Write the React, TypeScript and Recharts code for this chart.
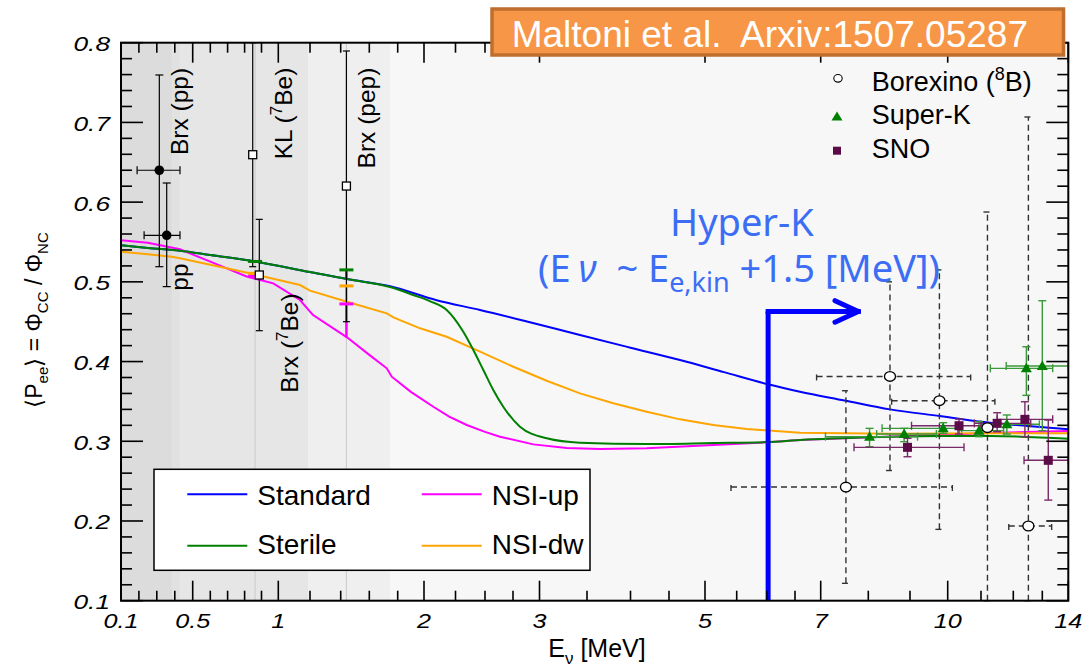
import React from "react";
import {
  ComposedChart,
  Line,
  Scatter,
  XAxis,
  YAxis,
  CartesianGrid,
  ReferenceArea,
  ReferenceLine,
  ErrorBar,
} from "recharts";

const FONT = "'Liberation Sans', Arial, Helvetica, sans-serif";

// ---------- x-axis calibration (energy [MeV] -> axis units); axis is neither linear nor log
const X_KNOT_E = [0.1, 0.2, 0.3, 0.4, 0.5, 0.6, 0.7, 0.8, 0.9, 1, 1.2, 1.4, 1.6, 1.8, 2, 2.25, 2.5, 2.75, 3, 3.5, 4, 4.5, 5, 5.5, 6, 6.5, 7, 8, 9, 10, 11, 12, 13, 14];
const X_KNOT_U = [121, 138.9, 156.8, 174.8, 192.7, 210.3, 227.6, 244.6, 261.5, 278.3, 310, 340.7, 369.3, 397.7, 424, 455.5, 485, 513, 539.5, 587, 630.5, 669, 705, 736.7, 767, 795, 820.7, 868.3, 910, 947.7, 981, 1013.3, 1042.3, 1068.3];

function toU(e: number): number {
  const n = X_KNOT_E.length;
  let i = 0;
  if (e >= X_KNOT_E[n - 1]) i = n - 2;
  else if (e > X_KNOT_E[0]) {
    while (i < n - 2 && e > X_KNOT_E[i + 1]) i++;
  }
  const e0 = X_KNOT_E[i], e1 = X_KNOT_E[i + 1];
  const u0 = X_KNOT_U[i], u1 = X_KNOT_U[i + 1];
  return u0 + ((e - e0) / (e1 - e0)) * (u1 - u0);
}

// ---------- tick labels
const X_MAJOR_E = [0.1, 0.5, 1, 2, 3, 5, 7, 10, 14];
const X_MAJOR_LABELS = ["0.1", "0.5", "1", "2", "3", "5", "7", "10", "14"];
const Y_MAJOR = [0.1, 0.2, 0.3, 0.4, 0.5, 0.6, 0.7, 0.8];
const Y_MAJOR_LABELS = ["0.1", "0.2", "0.3", "0.4", "0.5", "0.6", "0.7", "0.8"];

// ---------- model curves
const STD_E = [0.1, 0.25, 0.429, 0.6, 0.862, 1.2, 1.444, 1.746, 2.1, 2.458, 2.9, 3.426, 4.0, 4.653, 5.3, 6.0, 6.597, 7.5, 8.52, 9.796, 11.28, 12.5, 14];
const STD_P = [0.546, 0.5425, 0.539, 0.5336, 0.5256, 0.5123, 0.5035, 0.4945, 0.477, 0.4647, 0.4496, 0.4333, 0.4174, 0.4019, 0.3867, 0.3718, 0.3622, 0.3512, 0.34, 0.3317, 0.3233, 0.3192, 0.315];

const STR_E = [0.1, 0.25, 0.429, 0.6, 0.862, 1.2, 1.444, 1.746, 1.919, 2.05, 2.18, 2.316, 2.401, 2.486, 2.574, 2.663, 2.816, 3.076, 3.426, 4.21, 5.131, 6.0, 6.597, 8.04, 9.8, 11.28, 14];
const STR_P = [0.546, 0.5425, 0.539, 0.5336, 0.5256, 0.5123, 0.5035, 0.4935, 0.4835, 0.4756, 0.4647, 0.4374, 0.4145, 0.3894, 0.3643, 0.3433, 0.3183, 0.3037, 0.2982, 0.2965, 0.2978, 0.299, 0.3016, 0.305, 0.3066, 0.3066, 0.3032];

const UP_E = [0.1, 0.25, 0.429, 0.6, 0.812, 0.97, 1.137, 1.2, 1.22, 1.444, 1.6, 1.723, 1.758, 1.9, 2.074, 2.2, 2.345, 2.5, 2.634, 2.942, 3.286, 3.649, 4.21, 5.131, 6.0, 6.597, 8.04, 9.8, 11.28, 14];
const UP_P = [0.5523, 0.549, 0.5408, 0.5253, 0.5067, 0.4981, 0.4772, 0.4626, 0.4584, 0.4304, 0.4084, 0.3915, 0.381, 0.362, 0.3433, 0.331, 0.3204, 0.3118, 0.3057, 0.2961, 0.2915, 0.2903, 0.2911, 0.2953, 0.2987, 0.3016, 0.305, 0.308, 0.3105, 0.3129];

const DW_E = [0.1, 0.25, 0.384, 0.429, 0.6, 0.83, 1.137, 1.2, 1.444, 1.723, 1.77, 1.97, 2.18, 2.458, 2.753, 3.076, 3.426, 3.802, 4.21, 4.653, 5.131, 5.665, 6.597, 8.52, 11.28, 14];
const DW_P = [0.5378, 0.5345, 0.5316, 0.5295, 0.5214, 0.5107, 0.496, 0.4889, 0.4751, 0.4605, 0.4555, 0.4417, 0.4311, 0.4124, 0.3935, 0.3759, 0.3601, 0.3476, 0.3371, 0.3275, 0.3204, 0.3154, 0.3107, 0.3095, 0.31, 0.31];

// ---------- model predictions at the mono-energetic lines (7Be, pep)
const LINE_E = [0.862, 1.44];
const STR_LINE_P = [0.5256, 0.515];
const STR_LINE_CURVE = [0.5256, 0.5035];
const UP_LINE_P = [0.507, 0.4723];
const UP_LINE_CURVE = [0.507, 0.4304];
const DW_LINE_P = [0.5107, 0.4949];
const DW_LINE_CURVE = [0.5107, 0.4751];

// ---------- Borexino pp (filled circles)
const BPP_E = [0.314, 0.355];
const BPP_P = [0.64, 0.5584];
const BPP_ELO = [0.19, 0.229];
const BPP_EHI = [0.429, 0.429];
const BPP_PLO = [0.519, 0.494];
const BPP_PHI = [0.7595, 0.624];

// ---------- KL 7Be, Brx 7Be, Brx pep (open squares)
const SQ_E = [0.848, 0.887, 1.44];
const SQ_P = [0.6595, 0.5086, 0.6202];
const SQ_PLO = [0.519, 0.4387, 0.45];
const SQ_PHI = [0.8, 0.5784, 0.7896];

// ---------- Borexino 8B
const B8_E = [7.53, 8.52, 9.78, 11.2, 12.52];
const B8_P = [0.2426, 0.3813, 0.3509, 0.317, 0.1937];
const B8_ELO = [5.41, 6.92, 8.56, 11.2, 11.86];
const B8_EHI = [10.14, 10.69, 11.43, 11.2, 13.36];
const B8_PLO = [0.1218, 0.2633, 0.1895, 0.1, 0.1];
const B8_PHI = [0.3634, 0.5, 0.515, 0.5876, 0.7068];

// ---------- Super-K
const SK_E = [8.03, 8.86, 9.88, 10.94, 11.8, 12.45, 13.0];
const SK_P = [0.3057, 0.3091, 0.3162, 0.3133, 0.3213, 0.3915, 0.3944];
const SK_ELO = [7.1, 8.2, 8.33, 10.3, 11.0, 11.29, 11.78];
const SK_EHI = [9.2, 9.7, 10.42, 11.7, 12.9, 13.4, 14.0];
const SK_PLO = [0.2932, 0.2995, 0.31, 0.3057, 0.309, 0.3576, 0.3133];
const SK_PHI = [0.3162, 0.3162, 0.3233, 0.3245, 0.333, 0.4186, 0.4763];

// ---------- SNO
const SNO_E = [8.94, 10.34, 11.5, 12.4, 13.23];
const SNO_P = [0.2924, 0.3195, 0.3225, 0.3275, 0.2761];
const SNO_ELO = [7.7, 9.04, 10.8, 11.5, 12.37];
const SNO_EHI = [10.49, 11.0, 12.6, 13.4, 14.0];
const SNO_PLO = [0.2806, 0.3091, 0.312, 0.3057, 0.2262];
const SNO_PHI = [0.3037, 0.3279, 0.3358, 0.3496, 0.3266];

// ---------- shaded energy bands and line markers
const BAND_E = [0.1, 0.385, 0.43, 1.19, 1.745];
const BAND_FILL = ["#dcdcdc", "#e1e1e1", "#e6e6e6", "#efefef"];
const GUIDE_E = [0.862, 1.44];

// ---------- Hyper-K threshold arrow
const HK_E = 6.02;
const HK_P = 0.4629;
const HK_ARROW_E = 7.79;
const HK_HEAD_E = 7.3;
const HK_HEAD_DP = 0.0135;

// ---------- layout
const W = 1089;
const H = 668;
const PL = 121;
const PT = 42.7;
const PR = 1068.3;
const PB = 600.7;

const curve = (es: number[], ps: number[]) => es.map((e, i) => ({ u: toU(e), P: ps[i] }));
const points = (es: number[], ps: number[], elo: number[] | null, ehi: number[] | null, plo: number[], phi: number[]) =>
  es.map((e, i) => {
    const u = toU(e);
    return {
      u,
      P: ps[i],
      ex: elo && ehi ? [u - toU(elo[i]), toU(ehi[i]) - u] : [0, 0],
      ey: [ps[i] - plo[i], phi[i] - ps[i]],
    };
  });
const lineMarks = (p: number[], c: number[]) => LINE_E.map((e, i) => ({ u: toU(e), P: p[i], ey: [p[i] - c[i], 0] }));

const stdData = curve(STD_E, STD_P);
const strData = curve(STR_E, STR_P);
const upData = curve(UP_E, UP_P);
const dwData = curve(DW_E, DW_P);
const bppData = points(BPP_E, BPP_P, BPP_ELO, BPP_EHI, BPP_PLO, BPP_PHI);
const sqData = points(SQ_E, SQ_P, null, null, SQ_PLO, SQ_PHI);
const b8Data = points(B8_E, B8_P, B8_ELO, B8_EHI, B8_PLO, B8_PHI);
const skData = points(SK_E, SK_P, SK_ELO, SK_EHI, SK_PLO, SK_PHI);
const snoData = points(SNO_E, SNO_P, SNO_ELO, SNO_EHI, SNO_PLO, SNO_PHI);

const Y_TICKS: number[] = [];
for (let i = 0; i <= 35; i++) Y_TICKS.push(Math.round((0.1 + 0.02 * i) * 100) / 100);

function XTick(props: any) {
  const v = props.payload.value;
  const x = props.payload.coordinate ?? props.x;
  const k = X_MAJOR_E.findIndex((e) => Math.abs(toU(e) - v) < 1e-6);
  const len = k >= 0 ? 20 : 10;
  return (
    <g>
      <line x1={x} x2={x} y1={PB} y2={PB - len} stroke="#000" strokeWidth={1.6} />
      <line x1={x} x2={x} y1={PT} y2={PT + len} stroke="#000" strokeWidth={1.6} />
      {k >= 0 && (
        <text
          x={0}
          y={0}
          transform={`translate(${x},${PB + 27.6}) scale(1.2,1)`}
          textAnchor="middle"
          fontSize={21}
          fontStyle="italic"
          fontWeight="normal"
          fontFamily={FONT}
          fill="#000"
        >
          {X_MAJOR_LABELS[k]}
        </text>
      )}
    </g>
  );
}

function YTick(props: any) {
  const v = props.payload.value;
  const y = props.payload.coordinate ?? props.y;
  const k = Y_MAJOR.findIndex((m) => Math.abs(m - v) < 1e-6);
  const len = k >= 0 ? 22 : 11;
  return (
    <g>
      <line x1={PL} x2={PL + len} y1={y} y2={y} stroke="#000" strokeWidth={1.6} />
      <line x1={PR} x2={PR - len} y1={y} y2={y} stroke="#000" strokeWidth={1.6} />
      {k >= 0 && (
        <text
          x={0}
          y={0}
          transform={`translate(${110},${y + 8.5}) scale(1.25,1)`}
          textAnchor="end"
          fontSize={21}
          fontStyle="italic"
          fontWeight="normal"
          fontFamily={FONT}
          fill="#000"
        >
          {Y_MAJOR_LABELS[k]}
        </text>
      )}
    </g>
  );
}

const filledCircle = (p: any) => <circle cx={p.cx} cy={p.cy} r={4.8} fill="#000" />;
const openSquare = (p: any) => (
  <rect x={p.cx - 4} y={p.cy - 4} width={8} height={8} fill="#fff" stroke="#000" strokeWidth={1.3} />
);
const openCircle = (p: any) => (
  <ellipse cx={p.cx} cy={p.cy} rx={5.5} ry={4.8} fill="#fff" stroke="#000" strokeWidth={1.3} />
);
const triangle = (p: any) => (
  <polygon
    points={`${p.cx},${p.cy - 5.5} ${p.cx - 5.5},${p.cy + 4} ${p.cx + 5.5},${p.cy + 4}`}
    fill="#008000"
  />
);
const snoSquare = (p: any) => (
  <rect x={p.cx - 4.5} y={p.cy - 4.5} width={9} height={9} fill="#5c0b49" />
);
const bar = (color: string) => (p: any) => (
  <line x1={p.cx - 7} x2={p.cx + 7} y1={p.cy} y2={p.cy} stroke={color} strokeWidth={3} />
);

const BLUE = "#0000ff";
const GREEN = "#008000";
const MAGENTA = "#ff00ff";
const ORANGE = "#ffa500";
const HK_BLUE = "#3c6ef5";

function Overlay() {
  const rot = (x: number, y: number) => `translate(${x},${y}) rotate(-90)`;
  return (
    <svg
      width={W}
      height={H}
      style={{ position: "absolute", left: 0, top: 0, pointerEvents: "none" }}
      fontFamily={FONT}
    >
      {/* frame */}
      <rect x={PL} y={PT} width={PR - PL} height={PB - PT} fill="none" stroke="#000" strokeWidth={2} />

      {/* banner */}
      <rect x={492} y={9} width={571.5} height={46} fill="#f79646" stroke="#bf6e2e" strokeWidth={3.5} />
      <text x={511.7} y={46.7} fontSize={37} fill="#fff" style={{ whiteSpace: "pre" }}>
        Maltoni et al.  Arxiv:1507.05287
      </text>

      {/* top-right legend */}
      <ellipse cx={838} cy={78.3} rx={4.2} ry={3.8} fill="#fff" stroke="#000" strokeWidth={1.1} />
      <polygon points="837,111.5 831.5,120.5 842.5,120.5" fill="#008000" />
      <rect x={833} y={146.7} width={8} height={8} fill="#5c0b49" />
      <text x={871.7} y={90.7} fontSize={27} fill="#000">
        Borexino (<tspan dy={-11} fontSize={18}>8</tspan>
        <tspan dy={11}>B)</tspan>
      </text>
      <text x={871.7} y={124} fontSize={27} fill="#000">
        Super-K
      </text>
      <text x={871.7} y={158.3} fontSize={27} fill="#000">
        SNO
      </text>

      {/* bottom legend */}
      <rect x={154} y={469.3} width={436} height={101} fill="#fff" stroke="#000" strokeWidth={1.5} />
      <line x1={187.3} x2={247.3} y1={494.3} y2={494.3} stroke={BLUE} strokeWidth={2} />
      <line x1={187.3} x2={247.3} y1={545.7} y2={545.7} stroke={GREEN} strokeWidth={2} />
      <line x1={421.7} x2={481.7} y1={494.3} y2={494.3} stroke={MAGENTA} strokeWidth={2} />
      <line x1={421.7} x2={481.7} y1={545.7} y2={545.7} stroke={ORANGE} strokeWidth={2} />
      <text x={257.3} y={504.5} fontSize={28} fill="#000">Standard</text>
      <text x={257.3} y={553.5} fontSize={28} fill="#000">Sterile</text>
      <text x={491.7} y={504.5} fontSize={28} fill="#000">NSI-up</text>
      <text x={491.7} y={553.5} fontSize={28} fill="#000">NSI-dw</text>

      {/* data labels */}
      <text transform={rot(188.3, 111.5)} textAnchor="middle" fontSize={24.5} fill="#000">Brx (pp)</text>
      <text transform={rot(188, 277)} textAnchor="middle" fontSize={24.5} fill="#000">pp</text>
      <text transform={rot(291.7, 113.5)} textAnchor="middle" fontSize={24.5} fill="#000">
        KL (<tspan dy={-10} fontSize={17}>7</tspan>
        <tspan dy={10}>Be)</tspan>
      </text>
      <text transform={rot(375, 118)} textAnchor="middle" fontSize={24.5} fill="#000">Brx (pep)</text>
      <text transform={rot(298, 343)} textAnchor="middle" fontSize={24.5} fill="#000">
        Brx (<tspan dy={-10} fontSize={17}>7</tspan>
        <tspan dy={10}>Be)</tspan>
      </text>

      {/* axis titles */}
      <text transform={rot(42, 320)} textAnchor="middle" fontSize={23} fill="#000">
        ⟨P<tspan dy={6} fontSize={15}>ee</tspan>
        <tspan dy={-6}>⟩ = Φ</tspan>
        <tspan dy={6} fontSize={15}>CC</tspan>
        <tspan dy={-6}> / Φ</tspan>
        <tspan dy={6} fontSize={15}>NC</tspan>
      </text>
      <text x={597} y={657} textAnchor="middle" fontSize={25} fill="#000">
        E<tspan dy={7} fontSize={17}>ν</tspan>
        <tspan dy={-7}> [MeV]</tspan>
      </text>

      {/* Hyper-K annotation */}
      <text x={670} y={235.5} fontSize={38} fill={HK_BLUE} fontFamily="'Noto Sans', sans-serif">
        Hyper-K
      </text>
      <text
        x={538}
        y={282}
        fontSize={38}
        fill={HK_BLUE}
        fontFamily="'Noto Sans', sans-serif"
        style={{ whiteSpace: "pre" }}
      >
        (E<tspan dx={8} fontStyle="italic">ν</tspan>
        <tspan>{"  ~ E"}</tspan>
        <tspan dy={10} fontSize={27}>e,kin</tspan>
        <tspan dy={-10}>{" +1.5 [MeV])"}</tspan>
      </text>
    </svg>
  );
}

export default function App() {
  const uMin = toU(0.1);
  const uMax = toU(14);
  return (
    <div style={{ position: "absolute", left: 0, top: 0, width: W, height: H, background: "#fff" }}>
      <ComposedChart
        width={W}
        height={H}
        margin={{ top: PT, right: W - PR, bottom: 0, left: 0 }}
      >
        <CartesianGrid fill="#f7f7f7" horizontal={false} vertical={false} stroke="none" />
        <XAxis
          dataKey="u"
          type="number"
          domain={[uMin, uMax]}
          allowDataOverflow
          ticks={X_KNOT_E.map(toU)}
          interval={0}
          height={H - PB}
          tickLine={false}
          axisLine={false}
          tick={(p: any) => <XTick {...p} />}
        />
        <YAxis
          dataKey="P"
          type="number"
          domain={[0.1, 0.8]}
          allowDataOverflow
          ticks={Y_TICKS}
          interval={0}
          width={PL}
          tickLine={false}
          axisLine={false}
          tick={(p: any) => <YTick {...p} />}
        />
        {BAND_FILL.map((f, i) => (
          <ReferenceArea
            key={"band" + i}
            x1={toU(BAND_E[i])}
            x2={toU(BAND_E[i + 1])}
            y1={0.1}
            y2={0.8}
            fill={f}
            fillOpacity={1}
            stroke="none"
          />
        ))}
        {GUIDE_E.map((e, i) => (
          <ReferenceLine key={"guide" + i} x={toU(e)} stroke="#cfcfcf" strokeWidth={1.2} />
        ))}

        <Line data={stdData} dataKey="P" type="monotone" stroke={BLUE} strokeWidth={2} dot={false} isAnimationActive={false} />
        <Line data={upData} dataKey="P" type="linear" stroke={MAGENTA} strokeWidth={2} dot={false} isAnimationActive={false} />
        <Line data={dwData} dataKey="P" type="linear" stroke={ORANGE} strokeWidth={2} dot={false} isAnimationActive={false} />
        <Line data={strData} dataKey="P" type="monotone" stroke={GREEN} strokeWidth={2} dot={false} isAnimationActive={false} />

        <Scatter data={lineMarks(UP_LINE_P, UP_LINE_CURVE)} shape={bar(MAGENTA)} isAnimationActive={false}>
          <ErrorBar dataKey="ey" direction="y" width={0} stroke={MAGENTA} strokeWidth={2.5} />
        </Scatter>
        <Scatter data={lineMarks(DW_LINE_P, DW_LINE_CURVE)} shape={bar(ORANGE)} isAnimationActive={false}>
          <ErrorBar dataKey="ey" direction="y" width={0} stroke={ORANGE} strokeWidth={2.5} />
        </Scatter>
        <Scatter data={lineMarks(STR_LINE_P, STR_LINE_CURVE)} shape={bar(GREEN)} isAnimationActive={false}>
          <ErrorBar dataKey="ey" direction="y" width={0} stroke={GREEN} strokeWidth={2.5} />
        </Scatter>

        <Scatter data={bppData} shape={filledCircle} isAnimationActive={false}>
          <ErrorBar dataKey="ex" direction="x" width={4} stroke="#000" strokeWidth={1.2} />
          <ErrorBar dataKey="ey" direction="y" width={4} stroke="#000" strokeWidth={1.2} />
        </Scatter>
        <Scatter data={sqData} shape={openSquare} isAnimationActive={false}>
          <ErrorBar dataKey="ey" direction="y" width={3.5} stroke="#000" strokeWidth={1.2} />
        </Scatter>

        <Scatter data={b8Data} shape={openCircle} isAnimationActive={false}>
          <ErrorBar dataKey="ex" direction="x" width={4} stroke="#333" strokeWidth={1.4} strokeDasharray="6 4" />
          <ErrorBar dataKey="ey" direction="y" width={4} stroke="#333" strokeWidth={1.4} strokeDasharray="6 4" />
        </Scatter>
        <Scatter data={skData} shape={triangle} isAnimationActive={false}>
          <ErrorBar dataKey="ex" direction="x" width={4} stroke="#3a9a3a" strokeWidth={1.4} />
          <ErrorBar dataKey="ey" direction="y" width={4} stroke="#3a9a3a" strokeWidth={1.4} />
        </Scatter>
        <Scatter data={snoData} shape={snoSquare} isAnimationActive={false}>
          <ErrorBar dataKey="ex" direction="x" width={4} stroke="#7a2a68" strokeWidth={1.4} />
          <ErrorBar dataKey="ey" direction="y" width={4} stroke="#7a2a68" strokeWidth={1.4} />
        </Scatter>

        <ReferenceLine
          segment={[{ x: toU(HK_E), y: 0.1 }, { x: toU(HK_E), y: HK_P }]}
          stroke={BLUE}
          strokeWidth={5}
        />
        <ReferenceLine
          segment={[{ x: toU(HK_E), y: HK_P }, { x: toU(HK_ARROW_E), y: HK_P }]}
          stroke={BLUE}
          strokeWidth={5}
          strokeLinecap="square"
        />
        <ReferenceLine
          segment={[{ x: toU(HK_HEAD_E), y: HK_P + HK_HEAD_DP }, { x: toU(HK_ARROW_E), y: HK_P }]}
          stroke={BLUE}
          strokeWidth={5}
          strokeLinecap="round"
        />
        <ReferenceLine
          segment={[{ x: toU(HK_HEAD_E), y: HK_P - HK_HEAD_DP }, { x: toU(HK_ARROW_E), y: HK_P }]}
          stroke={BLUE}
          strokeWidth={5}
          strokeLinecap="round"
        />
      </ComposedChart>
      <Overlay />
    </div>
  );
}
